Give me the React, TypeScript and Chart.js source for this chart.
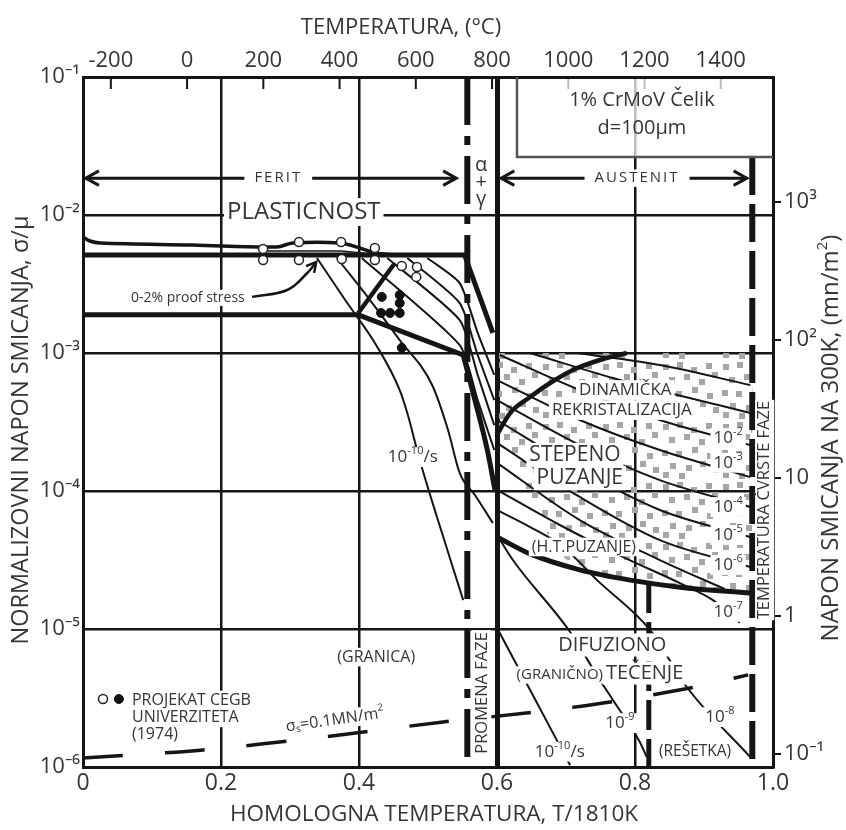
import React, { useEffect, useRef } from 'react';
import { Chart, registerables } from 'chart.js';

Chart.register(...registerables);

const FONT = '"Open Sans", "Noto Sans", "DejaVu Sans", sans-serif';
const INK = '#151515';
const TEXT = '#353535';

// ---- axes ----
const T_MELT_K = 1810;
const ZERO_C_K = 273;
const MU_300K = 8.0e4; // MN/m^2, shear modulus at 300K
const X_STEP = 0.2;
const TOP_TICKS_C = [-200, 0, 200, 400, 600, 800, 1000, 1200, 1400];
const LEFT_TICKS = [1e-6, 1e-5, 1e-4, 1e-3, 1e-2, 1e-1];
const RIGHT_TICKS = [0.1, 1, 10, 100, 1000];

type P = [number, number];

// ---- field boundaries (x = T/Tm, y = sigma/mu) ----
const YIELD_UPPER: P[] = [[0, 6.93e-3], [0.010, 6.48e-3], [0.025, 6.27e-3], [0.159, 6.06e-3], [0.281, 5.86e-3], [0.304, 6.27e-3], [0.372, 6.27e-3], [0.401, 5.77e-3], [0.423, 5.30e-3], [0.452, 5.13e-3]];
const YIELD_THIN: P[] = [[0.261, 5.48e-3], [0.374, 5.48e-3], [0.423, 5.20e-3]];
const PROOF_STRESS: P[] = [[0, 5.13e-3], [0.553, 5.13e-3], [0.594, 1.40e-3]];
const FERRITE_LOWER: P[] = [[0, 1.89e-3], [0.399, 1.89e-3], [0.551, 9.67e-4]];
const ALPHA_GAMMA_LOWER: P[] = [[0.551, 9.67e-4], [0.568, 4.56e-4], [0.586, 1.98e-4], [0.597, 1.02e-4]];
const DATA_BOUND: P[] = [[0.399, 1.95e-3], [0.452, 4.49e-3]];
const DRX_BOUND: P[] = [[0.600, 2.55e-4], [0.619, 3.67e-4], [0.648, 4.80e-4], [0.677, 6.06e-4], [0.710, 7.53e-4], [0.749, 8.90e-4], [0.788, 1.0e-3]];
const HT_BOUND: P[] = [[0.600, 4.64e-5], [0.648, 3.50e-5], [0.720, 2.68e-5], [0.793, 2.26e-5], [0.865, 2.01e-5], [0.967, 1.82e-5]];
const PHASE_CHANGE: P[] = [[0.557, 1e-1], [0.557, 1e-6]];
const SOLIDUS: P[] = [[0.970, 2.63e-2], [0.970, 1e-6]];
const LATTICE_BOUND: P[] = [[0.820, 2.15e-5], [0.820, 1e-6]];
const STIPPLE_ZONE: P[] = [[0.603, 1e-3], [0.970, 1e-3], [0.970, 1.85e-5], [0.865, 2.01e-5], [0.793, 2.26e-5], [0.720, 2.77e-5], [0.691, 3.44e-5], [0.662, 6.16e-5], [0.633, 1.20e-4], [0.612, 1.82e-4], [0.603, 2.34e-4], [0.603, 1e-3]];

// ---- strain-rate contours ----
const RATE_F1: P[] = [[0.339, 4.88e-3], [0.380, 2.42e-3], [0.425, 1.14e-3], [0.459, 5.39e-4], [0.470, 3.67e-4], [0.488, 1.68e-4], [0.513, 6.48e-5], [0.551, 1.62e-5]];
const RATE_F2: P[] = [[0.368, 4.88e-3], [0.416, 2.42e-3], [0.459, 1.24e-3], [0.506, 5.86e-4], [0.529, 2.77e-4], [0.546, 1.35e-4], [0.568, 9.35e-5], [0.594, 5.86e-5]];
const RATE_F3: P[] = [[0.404, 4.88e-3], [0.546, 1.14e-3], [0.572, 4.56e-4], [0.596, 1.98e-4]];
const RATE_F4: P[] = [[0.441, 4.88e-3], [0.546, 1.73e-3], [0.572, 6.93e-4], [0.596, 3.0e-4]];
const RATE_F5: P[] = [[0.470, 4.88e-3], [0.546, 2.30e-3], [0.572, 9.67e-4], [0.596, 4.56e-4]];
const RATE_F6: P[] = [[0.499, 4.88e-3], [0.546, 3.21e-3], [0.572, 1.40e-3], [0.596, 6.93e-4]];
const RATE_A1: P[] = [[0.716, 1.0e-3], [0.836, 8.18e-4], [0.967, 5.86e-4]];
const RATE_A2: P[] = [[0.648, 1.0e-3], [0.778, 6.37e-4], [0.967, 3.67e-4]];
const RATE_A3: P[] = [[0.604, 9.67e-4], [0.720, 5.39e-4], [0.836, 3.27e-4], [0.967, 2.15e-4]];
const RATE_A4: P[] = [[0.600, 6.37e-4], [0.720, 3.27e-4], [0.836, 1.98e-4], [0.967, 1.26e-4]];
const RATE_A5: P[] = [[0.600, 4.56e-4], [0.720, 2.15e-4], [0.836, 1.20e-4], [0.967, 7.66e-5]];
const RATE_A6: P[] = [[0.600, 3.27e-4], [0.720, 1.42e-4], [0.836, 7.28e-5], [0.967, 4.64e-5]];
const RATE_A7: P[] = [[0.600, 2.23e-4], [0.720, 9.05e-5], [0.836, 4.41e-5], [0.967, 2.81e-5]];
const RATE_A8: P[] = [[0.600, 1.60e-4], [0.720, 6.16e-5], [0.836, 3.16e-5], [0.930, 1.95e-5]];
const RATE_A9: P[] = [[0.600, 1.02e-4], [0.691, 5.67e-5], [0.783, 3.32e-5], [0.865, 2.15e-5], [0.913, 1.62e-5], [0.952, 1.11e-5]];
const RATE_8: P[] = [[0.600, 7.28e-5], [0.648, 5.48e-5], [0.696, 3.93e-5], [0.745, 2.26e-5], [0.822, 9.83e-6], [0.875, 3.80e-6], [0.967, 1.18e-6]];
const RATE_9: P[] = [[0.600, 4.80e-5], [0.623, 3.16e-5], [0.706, 9.51e-6], [0.749, 4.27e-6], [0.768, 3.06e-6], [0.807, 1.52e-6], [0.817, 1.18e-6]];
const RATE_10: P[] = [[0.600, 1.02e-5], [0.648, 3.61e-6], [0.706, 1.03e-6]];
const SIGMA_S: P[] = [[0, 1.16e-6], [0.174, 1.33e-6], [0.348, 1.65e-6], [0.522, 2.12e-6], [0.658, 2.51e-6], [0.774, 3.01e-6], [0.887, 3.80e-6], [0.964, 4.65e-6]];

// ---- experimental points (CEGB project) ----
const OPEN_PTS: P[] = [[0.261, 5.68e-3], [0.261, 4.72e-3], [0.313, 6.37e-3], [0.313, 4.72e-3], [0.374, 6.37e-3], [0.375, 4.80e-3], [0.423, 5.77e-3], [0.423, 4.72e-3], [0.462, 4.27e-3], [0.484, 4.20e-3], [0.483, 3.56e-3]];
const FILLED_PTS: P[] = [[0.433, 2.55e-3], [0.459, 2.63e-3], [0.459, 2.30e-3], [0.432, 1.95e-3], [0.445, 1.95e-3], [0.459, 1.95e-3], [0.462, 1.09e-3]];
const LEGEND_OPEN: P[] = [[0.029, 3.11e-6]];
const LEGEND_FILLED: P[] = [[0.052, 3.11e-6]];

// ---- arrows ----
const FERIT_ARROW: P[] = [[0.004, 1.85e-2], [0.541, 1.85e-2]];
const AUSTENIT_ARROW: P[] = [[0.606, 1.85e-2], [0.962, 1.85e-2]];
const PROOF_ARROW: P[] = [[0.245, 2.55e-3], [0.296, 2.86e-3], [0.325, 3.80e-3], [0.338, 4.56e-3]];

// ---- annotation box ----
const BOX_X = [0.629, 1.0];
const BOX_Y = [2.63e-2, 1e-1];

type Label = { t: string; x: number; y: number; size: number; rot?: number; align?: 'left' | 'center'; bg?: boolean; ls?: number; pad?: number };
const LABELS: Label[] = [
  { t: 'FERIT', x: 0.283, y: 1.85e-2, size: 15, ls: 2, pad: 10 },
  { t: 'AUSTENIT', x: 0.803, y: 1.85e-2, size: 15, ls: 2, pad: 10 },
  { t: 'PLASTICNOST', x: 0.320, y: 1.05e-2, size: 24 },
  { t: 'α', x: 0.577, y: 2.30e-2, size: 20, bg: false },
  { t: '+', x: 0.577, y: 1.73e-2, size: 20, bg: false },
  { t: 'γ', x: 0.577, y: 1.29e-2, size: 20, bg: false },
  { t: '0-2% proof stress', x: 0.152, y: 2.51e-3, size: 14 },
  { t: 'PROJEKAT CEGB', x: 0.071, y: 3.06e-6, size: 16, align: 'left' },
  { t: 'UNIVERZITETA', x: 0.071, y: 2.27e-6, size: 16, align: 'left' },
  { t: '(1974)', x: 0.071, y: 1.71e-6, size: 16, align: 'left' },
  { t: 'σ_{s}=0.1MN/m^{2}', x: 0.365, y: 2.19e-6, size: 16, rot: -8 },
  { t: '(GRANICA)', x: 0.425, y: 6.26e-6, size: 16 },
  { t: 'PROMENA FAZE', x: 0.578, y: 3.44e-6, size: 16.5, rot: -90, pad: 2 },
  { t: 'TEMPERATURA ČVRSTE FAZE', x: 0.988, y: 7.28e-5, size: 16.5, rot: -90, pad: 1 },
  { t: 'DINAMIČKA', x: 0.786, y: 5.39e-4, size: 17 },
  { t: 'REKRISTALIZACIJA', x: 0.781, y: 3.86e-4, size: 17 },
  { t: 'STEPENO', x: 0.713, y: 1.82e-4, size: 21 },
  { t: 'PUZANJE', x: 0.720, y: 1.24e-4, size: 21 },
  { t: '(H.T.PUZANJE)', x: 0.726, y: 3.93e-5, size: 16 },
  { t: '10^{-2}', x: 0.935, y: 2.42e-4, size: 17 },
  { t: '10^{-3}', x: 0.935, y: 1.60e-4, size: 17 },
  { t: '10^{-4}', x: 0.935, y: 7.66e-5, size: 17 },
  { t: '10^{-5}', x: 0.935, y: 4.80e-5, size: 17 },
  { t: '10^{-6}', x: 0.935, y: 2.91e-5, size: 17 },
  { t: '10^{-7}', x: 0.935, y: 1.33e-5, size: 17 },
  { t: 'DIFUZIONO', x: 0.767, y: 7.66e-6, size: 20 },
  { t: 'TEČENJE', x: 0.814, y: 4.80e-6, size: 20 },
  { t: '(GRANIČNO)', x: 0.691, y: 4.64e-6, size: 15 },
  { t: '10^{-9}', x: 0.778, y: 2.08e-6, size: 17 },
  { t: '10^{-8}', x: 0.923, y: 2.30e-6, size: 17 },
  { t: '10^{-10}/s', x: 0.691, y: 1.29e-6, size: 17 },
  { t: '(REŠETKA)', x: 0.887, y: 1.29e-6, size: 15.5 },
  { t: '10^{-10}/s', x: 0.478, y: 1.76e-4, size: 17 },
];
const BOX_TEXT: Label[] = [
  { t: '1% CrMoV Čelik', x: 0.810, y: 6.81e-2, size: 20, bg: false },
  { t: 'd=100μm', x: 0.810, y: 4.27e-2, size: 20, bg: false },
];

const SUP: Record<string, string> = { '-': '⁻', '0': '⁰', '1': '¹', '2': '²', '3': '³', '4': '⁴', '5': '⁵', '6': '⁶', '7': '⁷', '8': '⁸', '9': '⁹' };
const supStr = (s: string) => s.split('').map((c) => SUP[c] || c).join('');
const leftLabel = (v: number) => '10' + supStr(String(Math.round(Math.log10(v))));
const rightLabel = (v: number) => {
  const e = Math.round(Math.log10(v));
  if (e === 0) return '1';
  if (e === 1) return '10';
  return '10' + supStr(String(e));
};

function parseRich(s: string) {
  const segs: { t: string; k: number }[] = [];
  let buf = '';
  let i = 0;
  while (i < s.length) {
    const c = s[i];
    if ((c === '^' || c === '_') && s[i + 1] === '{') {
      if (buf) { segs.push({ t: buf, k: 0 }); buf = ''; }
      const end = s.indexOf('}', i);
      segs.push({ t: s.slice(i + 2, end), k: c === '^' ? 1 : -1 });
      i = end + 1;
    } else { buf += c; i++; }
  }
  if (buf) segs.push({ t: buf, k: 0 });
  return segs;
}

function drawRich(ctx: CanvasRenderingContext2D, l: Label, x: number, y: number, color = TEXT) {
  const segs = parseRich(l.t);
  const size = l.size;
  const small = Math.round(size * 0.62);
  const ls = l.ls || 0;
  (ctx as any).letterSpacing = ls + 'px';
  const widths = segs.map((sg) => {
    ctx.font = `${sg.k ? small : size}px ${FONT}`;
    return ctx.measureText(sg.t).width;
  });
  const total = widths.reduce((a, b) => a + b, 0);
  ctx.save();
  ctx.translate(x, y);
  ctx.rotate(((l.rot || 0) * Math.PI) / 180);
  let x0 = l.align === 'left' ? 0 : -total / 2;
  const pad = l.pad ?? 3;
  if (l.bg !== false) {
    ctx.fillStyle = '#ffffff';
    ctx.fillRect(x0 - pad, -size * 0.58, total + 2 * pad, size * 1.16);
  }
  ctx.fillStyle = color;
  ctx.textBaseline = 'middle';
  ctx.textAlign = 'left';
  segs.forEach((sg, j) => {
    ctx.font = `${sg.k ? small : size}px ${FONT}`;
    const dy = sg.k === 1 ? -size * 0.36 : sg.k === -1 ? size * 0.24 : 0;
    ctx.fillText(sg.t, x0, dy);
    x0 += widths[j];
  });
  ctx.restore();
  (ctx as any).letterSpacing = '0px';
}

function chevron(ctx: CanvasRenderingContext2D, tx: number, ty: number, fx: number, fy: number, len: number) {
  const a = Math.atan2(ty - fy, tx - fx);
  const w = 0.5;
  ctx.beginPath();
  ctx.moveTo(tx - len * Math.cos(a - w), ty - len * Math.sin(a - w));
  ctx.lineTo(tx, ty);
  ctx.lineTo(tx - len * Math.cos(a + w), ty - len * Math.sin(a + w));
  ctx.stroke();
}

// fixed layout of grey squares in one stipple tile
const STIPPLE_TILE: P[] = [[3, 4], [17, 2], [31, 7], [46, 3], [9, 17], [24, 14], [39, 19], [52, 12], [2, 30], [16, 31], [32, 27], [47, 33], [10, 43], [26, 45], [40, 41], [53, 47], [19, 53], [3, 52]];

function makeStipple(): CanvasPattern | string {
  const c = document.createElement('canvas');
  c.width = 60; c.height = 60;
  const g = c.getContext('2d');
  if (!g) return '#ccc';
  g.fillStyle = '#a6a6a6';
  STIPPLE_TILE.forEach(([x, y]) => g.fillRect(x, y, 6, 6));
  return g.createPattern(c, 'repeat') || '#ccc';
}

const overlayPlugin = {
  id: 'overlay',
  afterDatasetsDraw(chart: any) {
    const { ctx, scales, chartArea } = chart;
    const sx = scales.x, sy = scales.y, st = scales.x2;
    ctx.save();
    // arrowheads
    chart.data.datasets.forEach((ds: any, i: number) => {
      if (!ds.arrowStart && !ds.arrowEnd) return;
      const pts = chart.getDatasetMeta(i).data;
      ctx.strokeStyle = INK;
      ctx.lineWidth = ds.borderWidth;
      ctx.lineJoin = 'miter';
      ctx.lineCap = 'butt';
      if (ds.arrowEnd) {
        const a = pts[pts.length - 1], b = pts[pts.length - 2];
        chevron(ctx, a.x, a.y, b.x, b.y, ds.arrowLen || 14);
      }
      if (ds.arrowStart) {
        const a = pts[0], b = pts[1];
        chevron(ctx, a.x, a.y, b.x, b.y, ds.arrowLen || 14);
      }
    });
    // inner ticks of the temperature axis
    ctx.strokeStyle = INK;
    ctx.lineWidth = 2;
    TOP_TICKS_C.forEach((v) => {
      const px = st.getPixelForValue(v);
      ctx.beginPath();
      ctx.moveTo(px, chartArea.top);
      ctx.lineTo(px, chartArea.top + 12);
      ctx.stroke();
    });
    // labels
    LABELS.forEach((l) => drawRich(ctx, l, sx.getPixelForValue(l.x), sy.getPixelForValue(l.y)));
    // annotation box
    const bx0 = sx.getPixelForValue(BOX_X[0]);
    const bx1 = sx.getPixelForValue(BOX_X[1]);
    const byTop = sy.getPixelForValue(BOX_Y[1]);
    const byBot = sy.getPixelForValue(BOX_Y[0]);
    ctx.fillStyle = 'rgba(255,255,255,0.72)';
    ctx.fillRect(bx0, byTop + 2, bx1 - bx0 - 2, byBot - byTop - 2);
    ctx.strokeStyle = '#555';
    ctx.lineWidth = 2.5;
    ctx.beginPath();
    ctx.moveTo(bx0, byTop);
    ctx.lineTo(bx0, byBot);
    ctx.lineTo(bx1, byBot);
    ctx.stroke();
    BOX_TEXT.forEach((l) => drawRich(ctx, l, sx.getPixelForValue(l.x), sy.getPixelForValue(l.y)));
    // axis titles
    const cx = (chartArea.left + chartArea.right) / 2;
    drawRich(ctx, { t: 'HOMOLOGNA TEMPERATURA, T/1810K', x: 0, y: 0, size: 22.5, bg: false }, cx + 6, chartArea.bottom + 48);
    drawRich(ctx, { t: 'TEMPERATURA, (°C)', x: 0, y: 0, size: 22, bg: false }, cx - 27, chartArea.top - 49);
    drawRich(ctx, { t: 'NORMALIZOVNI NAPON SMICANJA, σ/μ', x: 0, y: 0, size: 23.5, rot: -90, bg: false }, chartArea.left - 62, 430);
    drawRich(ctx, { t: 'NAPON SMICANJA NA 300K, (mn/m^{2})', x: 0, y: 0, size: 24, rot: -90, bg: false }, chartArea.right + 58, 438);
    ctx.restore();
  },
};

export default function App() {
  const ref = useRef<HTMLCanvasElement>(null);
  useEffect(() => {
    const canvas = ref.current;
    if (!canvas) return;
    const toXY = (pts: P[]) => pts.map(([x, y]) => ({ x, y }));
    const line = (pts: P[], width: number, extra: any = {}) => ({
      data: toXY(pts),
      showLine: true,
      borderColor: INK,
      borderWidth: width,
      pointRadius: 0,
      fill: false,
      tension: 0,
      borderJoinStyle: 'round',
      order: 2,
      ...extra,
    });
    const smooth = { cubicInterpolationMode: 'monotone' };
    const thin = 2;
    const datasets: any[] = [
      { data: toXY(STIPPLE_ZONE), showLine: true, borderWidth: 0, pointRadius: 0, fill: 'shape', backgroundColor: makeStipple(), order: 9 },
      line(YIELD_UPPER, 3.5, { tension: 0.35 }),
      line(YIELD_THIN, 1.5),
      line(PROOF_STRESS, 5),
      line(FERRITE_LOWER, 5),
      line(ALPHA_GAMMA_LOWER, 5, smooth),
      line(DATA_BOUND, 4.5),
      line(DRX_BOUND, 4.5, smooth),
      line(HT_BOUND, 5, smooth),
      line(PHASE_CHANGE, 6, { borderDash: [48, 11, 9, 11] }),
      line(SOLIDUS, 6, { borderDash: [38, 9] }),
      line(LATTICE_BOUND, 5, { borderDash: [30, 9] }),
      line(RATE_F1, thin, smooth),
      line(RATE_F2, thin, smooth),
      line(RATE_F3, thin, { tension: 0.2 }),
      line(RATE_F4, thin, { tension: 0.2 }),
      line(RATE_F5, thin, { tension: 0.2 }),
      line(RATE_F6, thin, { tension: 0.2 }),
      line(RATE_A1, thin, smooth),
      line(RATE_A2, thin, smooth),
      line(RATE_A3, thin, smooth),
      line(RATE_A4, thin, smooth),
      line(RATE_A5, thin, smooth),
      line(RATE_A6, thin, smooth),
      line(RATE_A7, thin, smooth),
      line(RATE_A8, thin, smooth),
      line(RATE_A9, thin, smooth),
      line(RATE_8, thin, smooth),
      line(RATE_9, thin, smooth),
      line(RATE_10, thin, smooth),
      line(SIGMA_S, 3.5, { tension: 0.3, borderDash: [40, 42] }),
      line(FERIT_ARROW, 3, { arrowStart: true, arrowEnd: true, arrowLen: 15 }),
      line(AUSTENIT_ARROW, 3, { arrowStart: true, arrowEnd: true, arrowLen: 15 }),
      line(PROOF_ARROW, 2.5, { tension: 0.4, arrowEnd: true, arrowLen: 11 }),
      { data: toXY([...OPEN_PTS, ...LEGEND_OPEN]), showLine: false, pointRadius: 4.5, pointBackgroundColor: '#fff', pointBorderColor: '#222', pointBorderWidth: 1.5, order: 0 },
      { data: toXY([...FILLED_PTS, ...LEGEND_FILLED]), showLine: false, pointRadius: 4.5, pointBackgroundColor: '#111', pointBorderColor: '#111', pointBorderWidth: 1, order: 0 },
    ];

    const tickFont = { family: FONT, size: 21 };
    const chart = new Chart(canvas, {
      type: 'scatter',
      data: { datasets },
      plugins: [overlayPlugin],
      options: {
        animation: false,
        responsive: false,
        maintainAspectRatio: false,
        events: [],
        layout: { padding: 0 },
        plugins: { legend: { display: false }, tooltip: { enabled: false } },
        scales: {
          x: {
            type: 'linear', position: 'bottom', min: 0, max: 1,
            afterFit: (s: any) => { s.height = 63; },
            ticks: { stepSize: X_STEP, font: { family: FONT, size: 23 }, color: TEXT, padding: 3, maxRotation: 0, autoSkip: false,
              callback: (v: any) => (Number(v) === 0 ? '0' : Number(v).toFixed(1)) },
            grid: { color: INK, drawTicks: false, lineWidth: (c: any) => (c.tick && Math.abs(c.tick.value - 0.6) < 1e-6 ? 5 : 2.5) },
            border: { color: INK, width: 3 },
          },
          x2: {
            type: 'linear', position: 'top', min: -ZERO_C_K, max: T_MELT_K - ZERO_C_K,
            afterFit: (s: any) => { s.height = 77; },
            afterBuildTicks: (s: any) => { s.ticks = TOP_TICKS_C.map((v) => ({ value: v })); },
            ticks: { font: { family: FONT, size: 22 }, color: TEXT, padding: 3, maxRotation: 0, autoSkip: false, callback: (v: any) => String(Math.round(Number(v))) },
            grid: { drawOnChartArea: false, drawTicks: false },
            border: { color: INK, width: 3 },
          },
          y: {
            type: 'logarithmic', position: 'left', min: 1e-6, max: 1e-1,
            afterFit: (s: any) => { s.width = 83; },
            afterBuildTicks: (s: any) => { s.ticks = LEFT_TICKS.map((v) => ({ value: v })); },
            ticks: { font: { family: FONT, size: 22 }, color: TEXT, padding: 3, autoSkip: false, callback: (v: any) => leftLabel(Number(v)) },
            grid: { color: INK, lineWidth: 2.5, drawTicks: false },
            border: { color: INK, width: 3 },
          },
          y2: {
            type: 'logarithmic', position: 'right', min: 1e-6 * MU_300K, max: 1e-1 * MU_300K,
            afterFit: (s: any) => { s.width = 73; },
            afterBuildTicks: (s: any) => { s.ticks = RIGHT_TICKS.map((v) => ({ value: v })); },
            ticks: { font: { family: FONT, size: 22 }, color: TEXT, padding: 3, autoSkip: false, callback: (v: any) => rightLabel(Number(v)) },
            grid: { drawOnChartArea: false, color: INK, lineWidth: 2, tickLength: 8 },
            border: { color: INK, width: 3 },
          },
        },
      } as any,
    });
    return () => chart.destroy();
  }, []);
  return (
    <div style={{ position: 'absolute', left: 0, top: 0, width: 846, height: 830, background: '#fff' }}>
      <canvas ref={ref} width={846} height={830} style={{ display: 'block' }} />
    </div>
  );
}
